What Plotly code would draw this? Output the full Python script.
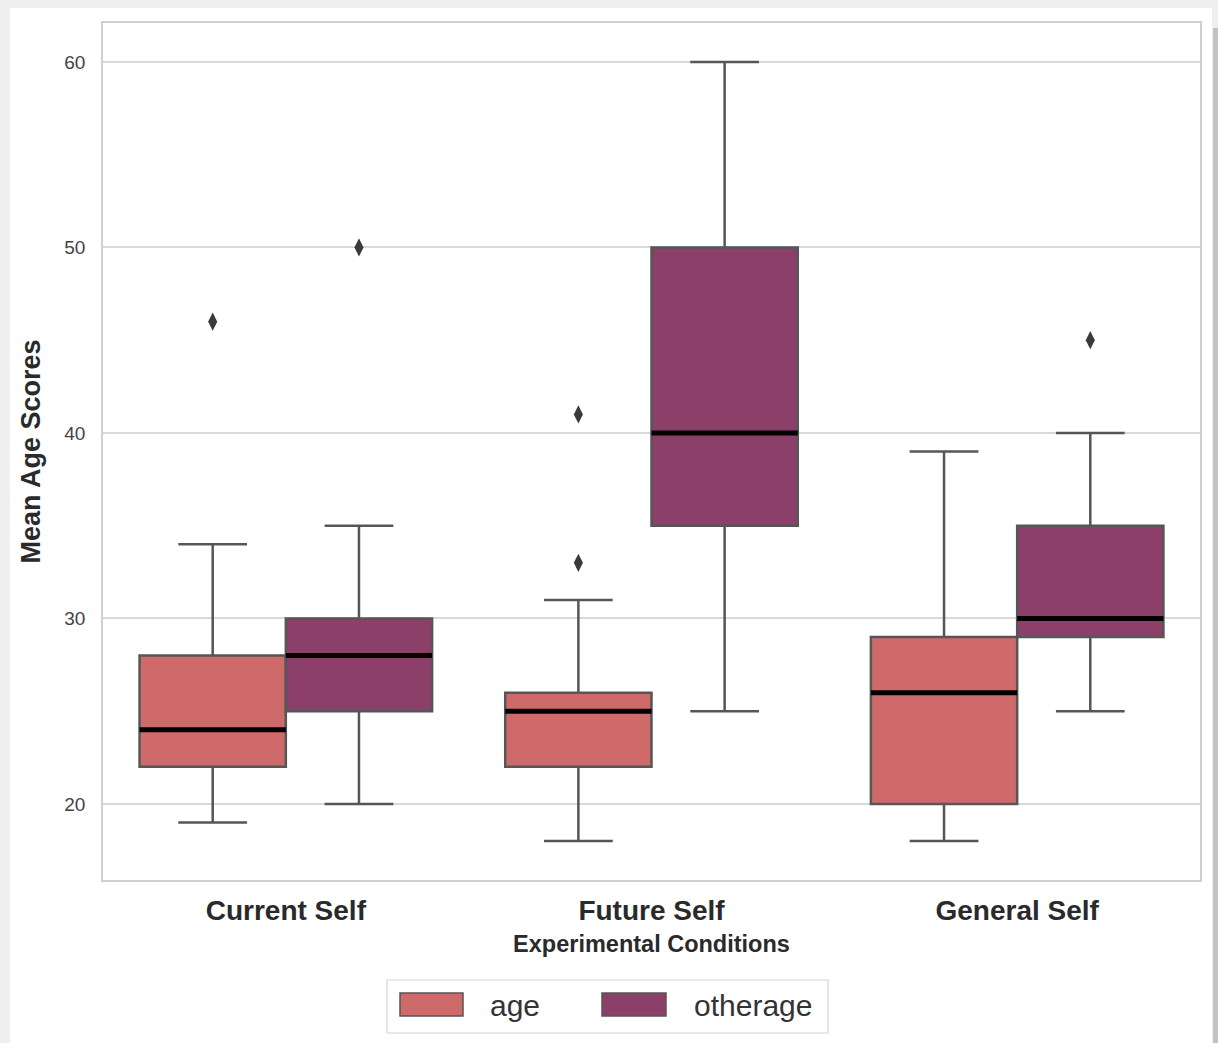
import numpy as np
import plotly.graph_objects as go

# Experimental conditions and the two age measures per condition
conditions = ["Current Self", "Future Self", "General Self"]
series_names = ["age", "otherage"]

# Five-number summaries per condition (order follows `conditions`)
age_lower = [19, 18, 18]
age_q1 = [22, 22, 20]
age_median = [24, 25, 26]
age_q3 = [28, 26, 29]
age_upper = [34, 31, 39]

other_lower = [20, 25, 25]
other_q1 = [25, 35, 29]
other_median = [28, 40, 30]
other_q3 = [30, 50, 35]
other_upper = [35, 60, 40]

# Outliers: (condition index, value)
age_outliers = [(0, 46), (1, 33), (1, 41)]
other_outliers = [(0, 50), (2, 45)]

y_ticks = [20, 30, 40, 50, 60]

colors = {"age": "#CF6A6A", "otherage": "#8B3F69"}
EDGE = "#565656"
FONT = "Liberation Sans, Arial, sans-serif"

W, H = 1218, 1043
ML, MR, MT, MB = 103, 18, 23, 163
PW, PH = W - ML - MR, H - MT - MB

BOX_W = 0.4
OFFSETS = {"age": -0.2, "otherage": 0.2}

stats = {
    "age": (age_lower, age_q1, age_median, age_q3, age_upper, age_outliers),
    "otherage": (other_lower, other_q1, other_median, other_q3, other_upper, other_outliers),
}

fig = go.Figure()
pos = np.arange(len(conditions), dtype=float)

for name in series_names:
    lo, q1, med, q3, hi, outl = stats[name]
    xs = pos + OFFSETS[name]
    fig.add_trace(go.Box(
        x=xs, q1=q1, median=med, q3=q3, lowerfence=lo, upperfence=hi,
        width=BOX_W, whiskerwidth=0.47, fillcolor=colors[name],
        line=dict(color=EDGE, width=2.5), boxpoints=False,
        name=name, showlegend=False, hoverinfo="skip",
    ))
    # thick black median bars across each box
    mx, my = [], []
    for x0, m in zip(xs, med):
        mx += [x0 - BOX_W / 2, x0 + BOX_W / 2, None]
        my += [m, m, None]
    fig.add_trace(go.Scatter(
        x=mx, y=my, mode="lines", line=dict(color="black", width=5),
        showlegend=False, hoverinfo="skip",
    ))
    # outlier diamonds
    fig.add_trace(go.Scatter(
        x=[pos[i] + OFFSETS[name] for i, _ in outl],
        y=[v for _, v in outl], mode="markers",
        marker=dict(symbol="diamond-tall", size=13, color="#3a3a3a",
                    line=dict(width=0)),
        showlegend=False, hoverinfo="skip",
    ))


def px_x(p):
    return (p - ML) / PW


def px_y(p):
    return (MT + PH - p) / PH


shapes = [
    # page background card
    dict(type="rect", xref="paper", yref="paper", layer="below",
         x0=px_x(10), x1=px_x(1212), y0=px_y(1043), y1=px_y(8),
         fillcolor="white", line=dict(width=0)),
    dict(type="rect", xref="paper", yref="paper", layer="below",
         x0=px_x(1213), x1=px_x(1218), y0=px_y(1043), y1=px_y(28),
         fillcolor="#c2c2c2", line=dict(width=0)),
    # legend frame
    dict(type="rect", xref="paper", yref="paper",
         x0=px_x(387), x1=px_x(828), y0=px_y(1033), y1=px_y(980),
         fillcolor="white", line=dict(color="#d4d4d4", width=1.2)),
]
annotations = []
legend_items = [("age", 400, 463, 488), ("otherage", 602, 666, 692)]
for name, p0, p1, tx in legend_items:
    shapes.append(dict(type="rect", xref="paper", yref="paper",
                       x0=px_x(p0), x1=px_x(p1), y0=px_y(1016), y1=px_y(993),
                       fillcolor=colors[name], line=dict(color=EDGE, width=1.5)))
    annotations.append(dict(xref="paper", yref="paper", x=px_x(tx), y=px_y(1005),
                            text=name, showarrow=False, xanchor="left", yanchor="middle",
                            font=dict(family=FONT, size=30, color="#333333")))

fig.update_layout(
    width=W, height=H,
    margin=dict(l=ML, r=MR, t=MT, b=MB),
    paper_bgcolor="#efefef",
    plot_bgcolor="rgba(0,0,0,0)",
    boxmode="overlay",
    shapes=shapes,
    annotations=annotations,
    showlegend=False,
)
fig.update_xaxes(
    range=[-0.5, 2.5], tickmode="array", tickvals=pos, ticktext=conditions,
    showgrid=False, zeroline=False, ticks="",
    showline=True, mirror=True, linecolor="#cfcfcf", linewidth=1.5,
    ticklabelstandoff=5,
    tickfont=dict(family=FONT, size=28, color="#2a2a2a", weight="bold"),
    title=dict(text="Experimental Conditions", standoff=10,
               font=dict(family=FONT, size=23.5, color="#2a2a2a", weight="bold")),
)
fig.update_yaxes(
    range=[15.9, 62.1], tickmode="array", tickvals=y_ticks,
    showgrid=True, gridcolor="#d9d9d9", gridwidth=1.5, zeroline=False, ticks="",
    showline=True, mirror=True, linecolor="#cfcfcf", linewidth=1.5,
    tickfont=dict(family=FONT, size=19, color="#444444"),
    ticklabelstandoff=12,
    title=dict(text="Mean Age Scores", standoff=16,
               font=dict(family=FONT, size=27, color="#2a2a2a", weight="bold")),
)

fig.write_html("out.html")
